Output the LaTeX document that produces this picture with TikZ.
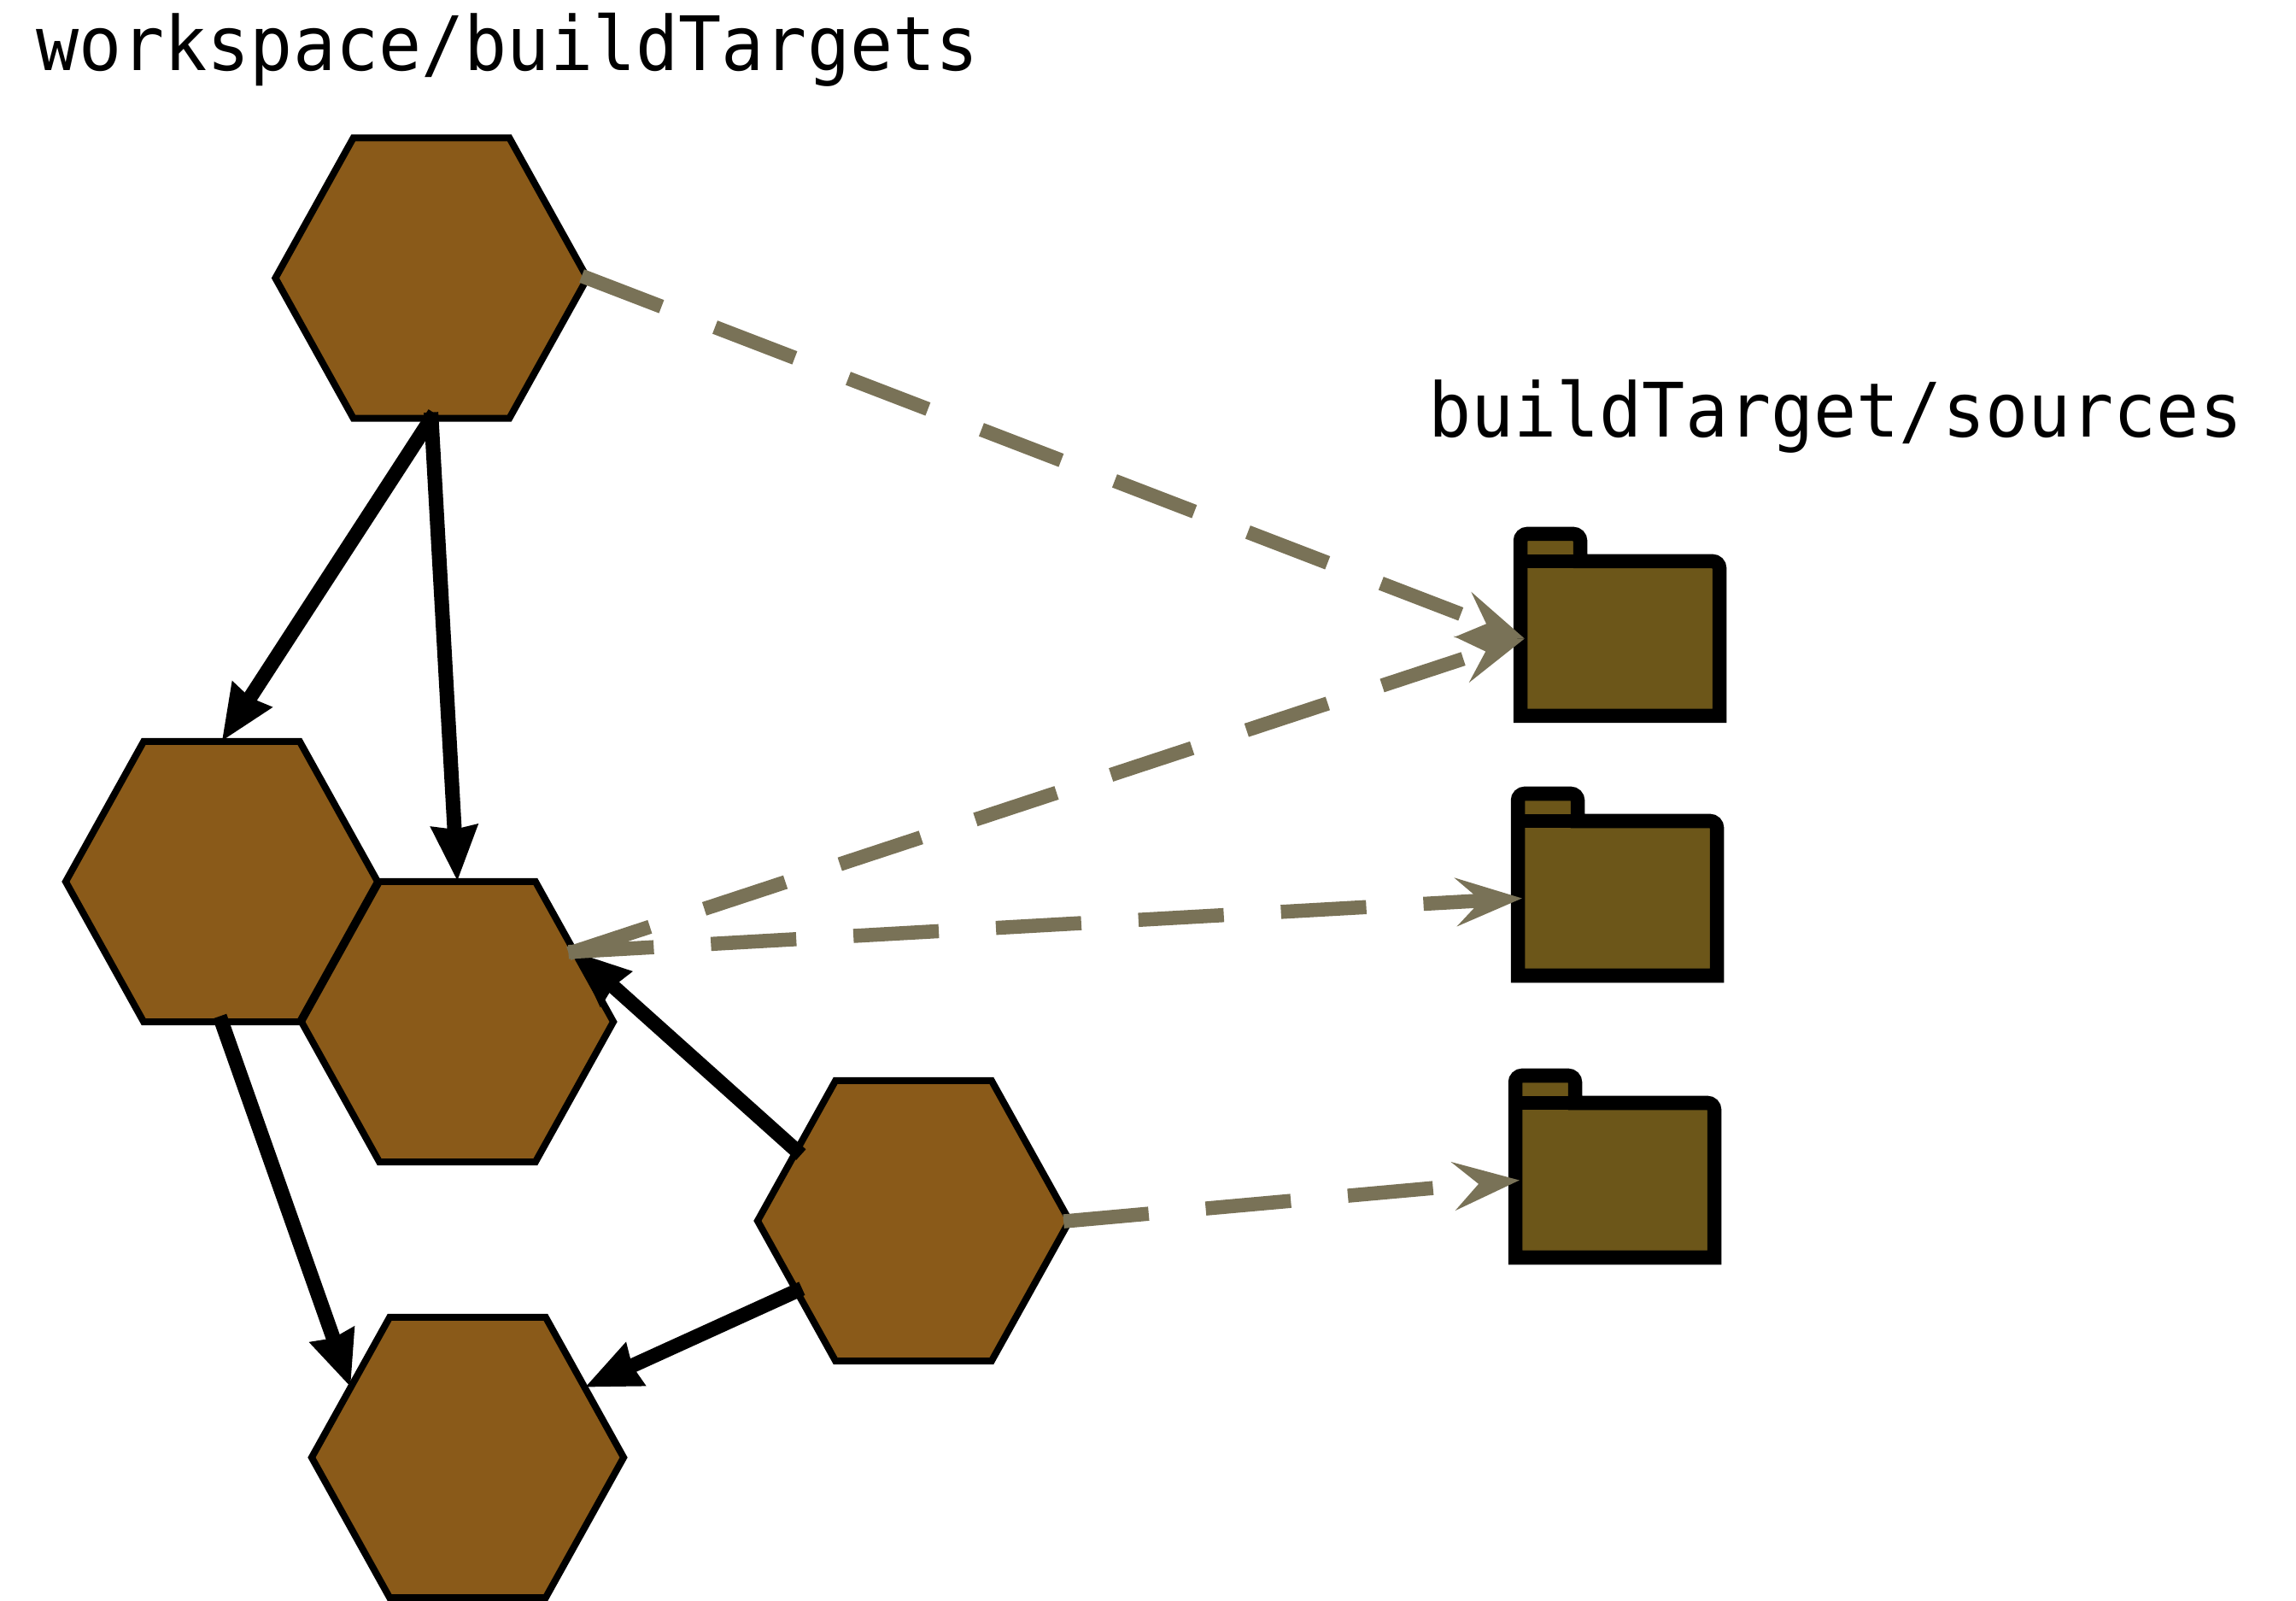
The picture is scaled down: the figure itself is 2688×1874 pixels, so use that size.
\documentclass[tikz,border=0pt]{standalone}
\usepackage{fontspec}
\setmonofont[FakeStretch=0.948]{DejaVu Sans Mono}
\usetikzlibrary{arrows.meta,shapes.geometric}
\definecolor{hexfill}{HTML}{8A5A19}
\definecolor{foldfill}{HTML}{6C5619}
\definecolor{linkgray}{HTML}{797257}
\tikzset{
  hexa/.style={regular polygon,regular polygon sides=6,draw=black,fill=hexfill,line width=0.08cm,
    minimum size=3.65cm,inner sep=0pt,outer sep=0pt,yscale=1.038,transform shape,line join=miter},
  foldbody/.style={rectangle,minimum width=2.33cm,minimum height=1.81cm,inner sep=0pt,outer sep=0pt},
  foldline/.style={draw=black,fill=foldfill,line width=0.165cm,line join=miter},
  dep/.style={draw=black,line width=0.17cm,shorten <=-0.07cm,
    -{Stealth[length=0.64cm,width=0.52cm,inset=0.03cm]}},
  src/.style={draw=linkgray,line width=0.165cm,shorten <=-0.07cm,dash pattern=on 1cm off 0.67cm,
    -{Stealth[length=0.77cm,width=0.56cm,inset=0.29cm]}},
  title/.style={anchor=base west,inner sep=0pt,outer sep=0pt,font=\ttfamily\fontsize{25pt}{26pt}\selectfont},
}
\newcommand{\myfolder}[3]{%
  \node[foldbody] (#1) at (#2+116.5,#3-90.5) {};
  \draw[foldline] (#2,#3) [rounded corners=0.08cm] -- (#2,#3-213) -- (#2+70,#3-213) [sharp corners] -- (#2+70,#3-181)
     [rounded corners=0.08cm] -- (#2+233,#3-181) [sharp corners] -- (#2+233,#3) -- cycle;
  \draw[foldline,fill=none] (#2,#3-181) -- (#2+70,#3-181);
}
\begin{document}
\begin{tikzpicture}[x=0.01cm,y=-0.01cm]
\useasboundingbox (0,0) rectangle (2688,1874);
\node[title] (t1) at (42,83) {workspace/buildTargets};
\node[title] (t2) at (1672,512) {buildTarget/sources};
\node[hexa] (a) at (505,325.5) {};
\node[hexa] (b) at (259.5,1032) {};
\node[hexa] (c) at (535.5,1196) {};
\node[hexa] (d) at (1069.5,1429) {};
\node[hexa] (e) at (547.5,1706) {};
\myfolder{f1}{1780}{838}
\myfolder{f2}{1777}{1142}
\myfolder{f3}{1774}{1472}
\draw[dep] (a.south) -- (b.north);
\draw[dep] (a.south) -- (c.north);
\draw[dep] (b.south) -- (e.150);
\draw[dep] (d.150) -- (c.30);
\draw[dep] (d.210) -- (e.30);
\draw[src] (a.east) -- ([xshift=0.05cm]f1.west);
\draw[src] (c.30) -- ([xshift=0.05cm]f1.west);
\draw[src] (c.30) -- ([xshift=0.05cm]f2.west);
\draw[src] (d.east) -- ([xshift=0.05cm]f3.west);
\end{tikzpicture}
\end{document}
